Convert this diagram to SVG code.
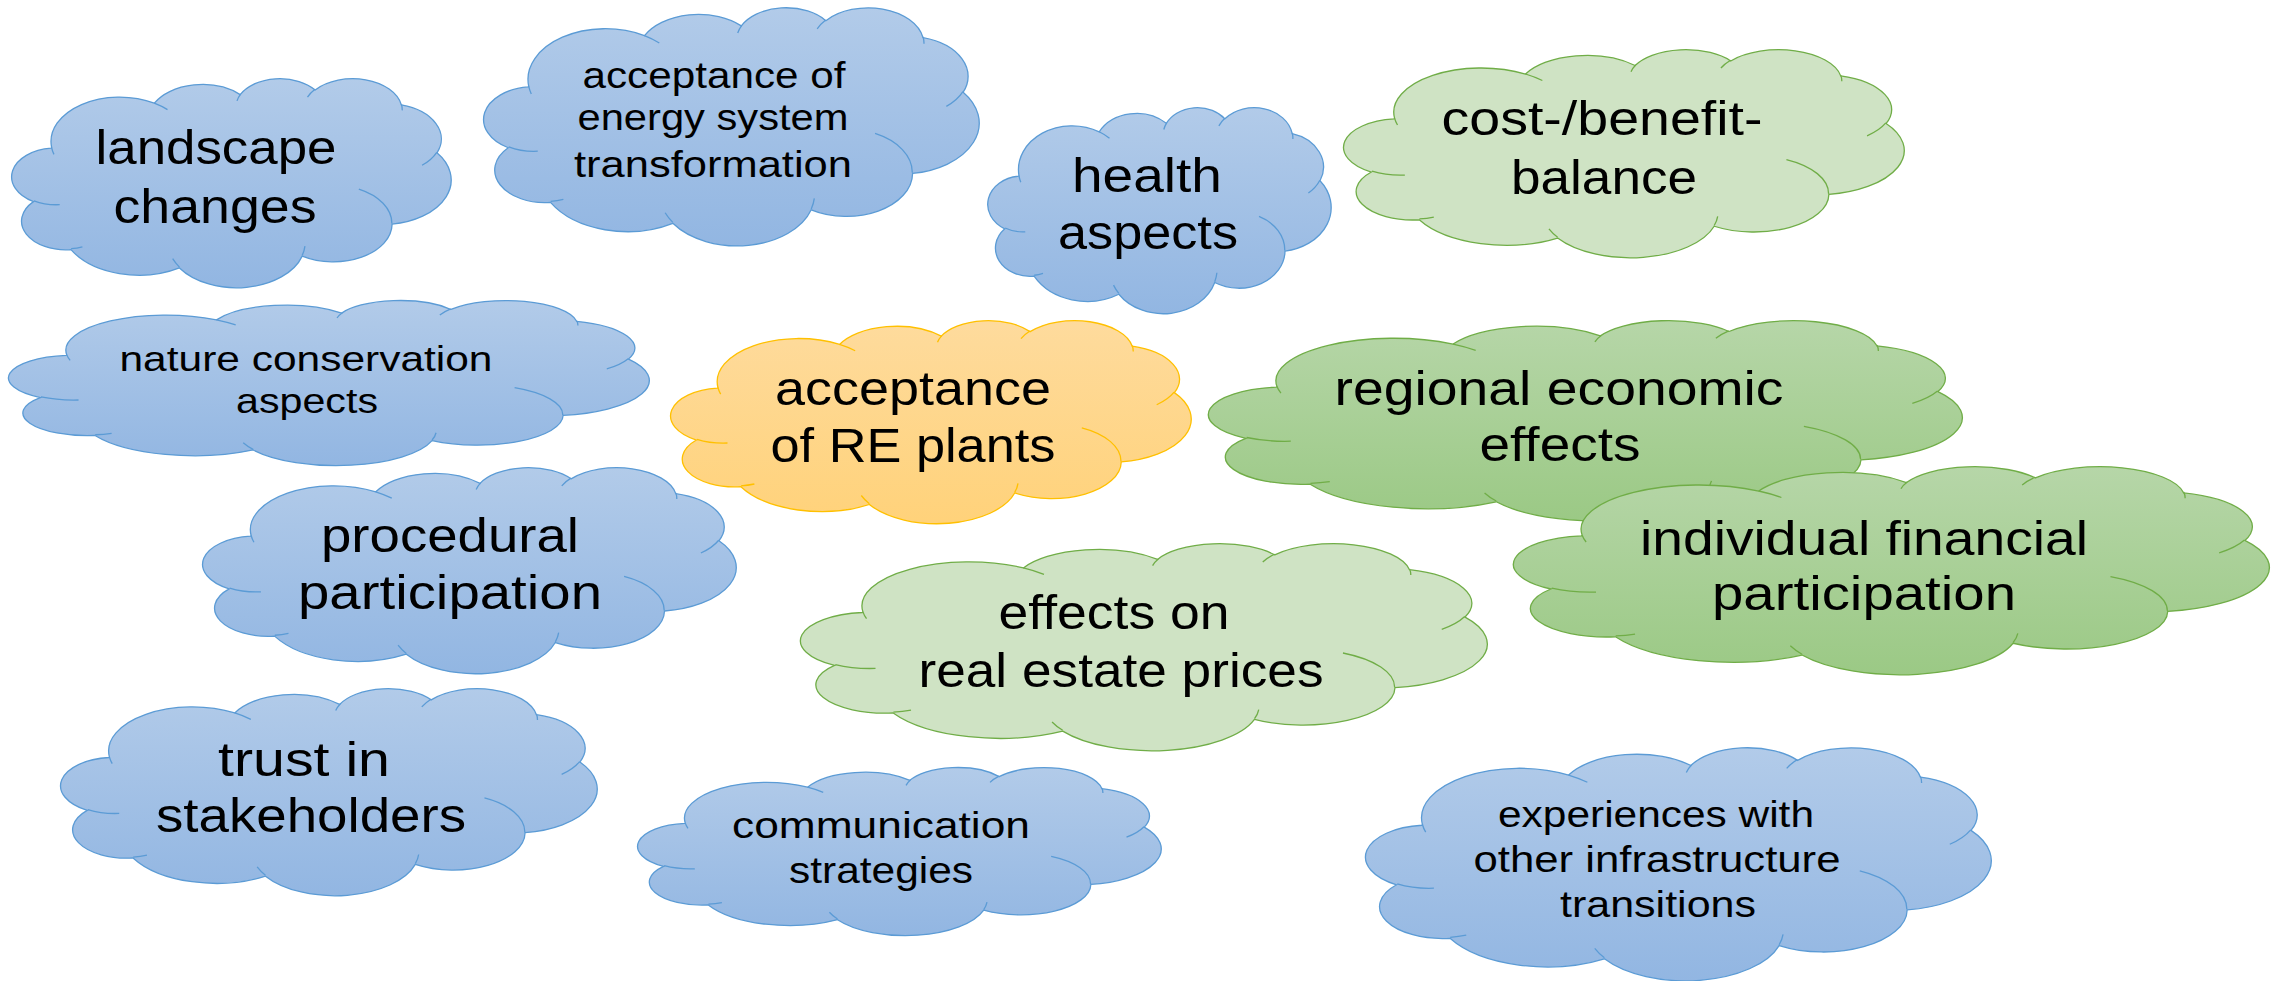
<svg xmlns="http://www.w3.org/2000/svg" width="2282" height="981" viewBox="0 0 2282 981">
<style>
.cloud path{vector-effect:non-scaling-stroke;stroke-width:1.3}
.blue{fill:url(#gBlue);stroke:#5b9bd5}
.green{fill:url(#gGreen);stroke:#70ad47}
.lgreen{fill:#cfe3c4;stroke:#70ad47}
.orange{fill:url(#gOrange);stroke:#ffc000}
.t{font-family:"Liberation Sans",Arial,sans-serif;fill:#000;text-anchor:middle}
.b{font-size:49px}
.m{font-size:36px}
.s{font-size:35px}
</style>
<defs>
<linearGradient id="gBlue" x1="0" y1="0" x2="0" y2="1"><stop offset="0" stop-color="#b2cbe9"/><stop offset="1" stop-color="#92b6e2"/></linearGradient>
<linearGradient id="gGreen" x1="0" y1="0" x2="0" y2="1"><stop offset="0" stop-color="#b6d6a8"/><stop offset="1" stop-color="#9bc985"/></linearGradient>
<linearGradient id="gOrange" x1="0" y1="0" x2="0" y2="1"><stop offset="0" stop-color="#fedb9d"/><stop offset="1" stop-color="#ffd27a"/></linearGradient>
<g id="cloud" class="cloud">
<path d="M39 143.7A67.53 91.9 0 0 1 140.05 52.02A53.33 72.67 0 0 1 224.56 34.32A43.65 59.45 0 0 1 298.33 24.8A48.57 65.95 0 0 1 383.18 55.76A53.33 72.73 0 0 1 418.18 154.59A67.75 92.2 0 0 1 374.04 302.03A57.85 78.67 0 0 1 285.56 368.13A67.52 92.15 0 0 1 164.8 392.63A77.2 105.43 0 0 1 58.05 354.69A43.6 59.18 0 0 1 21.13 255.48A43.45 59.45 0 0 1 38.63 145.04Z"/>
<path fill="none" d="M46.93 261.77A43.45 59.45 0 0 1 21.6 253.8M69.28 348.99A43.6 59.18 0 0 1 58.2 352.8M164.78 390.9A67.52 92.15 0 0 1 158.1 373.5M288.27 347.51A67.52 92.15 0 0 1 285.6 366.6M341.29 229.54A57.85 78.67 0 0 1 373.8 300.9M417.98 153.54A53.33 72.73 0 0 1 403.5 180.3M383.24 54.26A48.57 65.95 0 0 1 384 66.9M290.78 39.52A48.57 65.95 0 0 1 298.2 23.4M221.41 47.2A43.65 59.45 0 0 1 225 33.3M140 51.92A67.53 91.9 0 0 1 153 65.41M41.27 157.89A67.53 91.9 0 0 1 39 143.7"/>
</g>
</defs>
<rect width="2282" height="981" fill="#fff"/>
<g id="landscape-changes">
<use href="#cloud" class="blue" transform="translate(12 78) scale(1.0162 0.4838)"/>
<text class="t b"><tspan x="216" y="164" textLength="241" lengthAdjust="spacingAndGlyphs">landscape</tspan><tspan x="215" y="223" textLength="203" lengthAdjust="spacingAndGlyphs">changes</tspan></text>
</g>
<g id="acceptance-energy-system">
<use href="#cloud" class="blue" transform="translate(484 7) scale(1.14583 0.55093)"/>
<text class="t m"><tspan x="714" y="88" textLength="263" lengthAdjust="spacingAndGlyphs">acceptance of</tspan><tspan x="713" y="130" textLength="271" lengthAdjust="spacingAndGlyphs">energy system</tspan><tspan x="713" y="177" textLength="278" lengthAdjust="spacingAndGlyphs">transformation</tspan></text>
</g>
<g id="health-aspects">
<use href="#cloud" class="blue" transform="translate(988 107) scale(0.79398 0.47685)"/>
<text class="t b"><tspan x="1147" y="192" textLength="150" lengthAdjust="spacingAndGlyphs">health</tspan><tspan x="1148" y="249" textLength="180" lengthAdjust="spacingAndGlyphs">aspects</tspan></text>
</g>
<g id="cost-benefit-balance">
<use href="#cloud" class="lgreen" transform="translate(1344 49) scale(1.2963 0.48148)"/>
<text class="t b"><tspan x="1602" y="135" textLength="321" lengthAdjust="spacingAndGlyphs">cost-/benefit-</tspan><tspan x="1604" y="194" textLength="186" lengthAdjust="spacingAndGlyphs">balance</tspan></text>
</g>
<g id="nature-conservation">
<use href="#cloud" class="blue" transform="translate(9 300) scale(1.48148 0.38194)"/>
<text class="t s"><tspan x="306" y="371" textLength="373" lengthAdjust="spacingAndGlyphs">nature conservation</tspan><tspan x="307" y="413" textLength="142" lengthAdjust="spacingAndGlyphs">aspects</tspan></text>
</g>
<g id="acceptance-re-plants">
<use href="#cloud" class="orange" transform="translate(671 320) scale(1.2037 0.46991)"/>
<text class="t b"><tspan x="913" y="405" textLength="276" lengthAdjust="spacingAndGlyphs">acceptance</tspan><tspan x="913" y="462" textLength="285" lengthAdjust="spacingAndGlyphs">of RE plants</tspan></text>
</g>
<g id="regional-economic-effects">
<use href="#cloud" class="green" transform="translate(1209 320) scale(1.74306 0.46296)"/>
<text class="t b"><tspan x="1559" y="405" textLength="449" lengthAdjust="spacingAndGlyphs">regional economic</tspan><tspan x="1560" y="461" textLength="161" lengthAdjust="spacingAndGlyphs">effects</tspan></text>
</g>
<g id="individual-financial-participation">
<use href="#cloud" class="green" transform="translate(1514 466) scale(1.74769 0.48148)"/>
<text class="t b"><tspan x="1864" y="555" textLength="448" lengthAdjust="spacingAndGlyphs">individual financial</tspan><tspan x="1864" y="610" textLength="304" lengthAdjust="spacingAndGlyphs">participation</tspan></text>
</g>
<g id="procedural-participation">
<use href="#cloud" class="blue" transform="translate(203 467) scale(1.2338 0.47685)"/>
<text class="t b"><tspan x="450" y="552" textLength="258" lengthAdjust="spacingAndGlyphs">procedural</tspan><tspan x="450" y="609" textLength="304" lengthAdjust="spacingAndGlyphs">participation</tspan></text>
</g>
<g id="real-estate-prices">
<use href="#cloud" class="lgreen" transform="translate(801 543) scale(1.58796 0.47917)"/>
<text class="t b"><tspan x="1114" y="629" textLength="231" lengthAdjust="spacingAndGlyphs">effects on</tspan><tspan x="1121" y="687" textLength="405" lengthAdjust="spacingAndGlyphs">real estate prices</tspan></text>
</g>
<g id="trust-in-stakeholders">
<use href="#cloud" class="blue" transform="translate(61 688) scale(1.24074 0.47917)"/>
<text class="t b"><tspan x="304" y="776" textLength="172" lengthAdjust="spacingAndGlyphs">trust in</tspan><tspan x="311" y="832" textLength="310" lengthAdjust="spacingAndGlyphs">stakeholders</tspan></text>
</g>
<g id="communication-strategies">
<use href="#cloud" class="blue" transform="translate(638 767) scale(1.21065 0.38889)"/>
<text class="t m"><tspan x="881" y="838" textLength="298" lengthAdjust="spacingAndGlyphs">communication</tspan><tspan x="881" y="883" textLength="184" lengthAdjust="spacingAndGlyphs">strategies</tspan></text>
</g>
<g id="experiences-infrastructure">
<use href="#cloud" class="blue" transform="translate(1366 747) scale(1.44676 0.53935)"/>
<text class="t m"><tspan x="1656" y="827" textLength="316" lengthAdjust="spacingAndGlyphs">experiences with</tspan><tspan x="1657" y="872" textLength="367" lengthAdjust="spacingAndGlyphs">other infrastructure</tspan><tspan x="1658" y="917" textLength="196" lengthAdjust="spacingAndGlyphs">transitions</tspan></text>
</g>
</svg>
